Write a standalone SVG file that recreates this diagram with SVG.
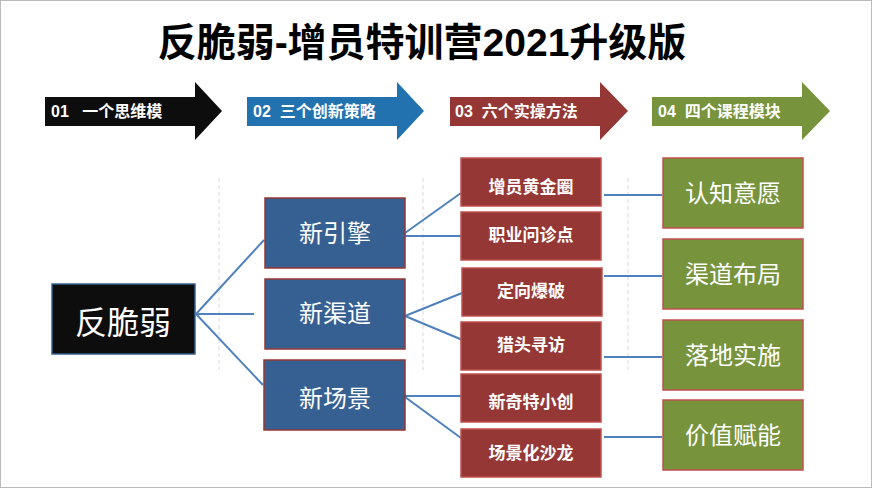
<svg xmlns="http://www.w3.org/2000/svg" width="872" height="488" viewBox="0 0 872 488">
<style>
text{font-family:"Liberation Sans","Noto Sans CJK SC",sans-serif}
.t{font-size:39px;font-weight:bold;fill:#000}
.a{font-size:16px;font-weight:bold;fill:#fff;white-space:pre}
.b{fill:#366092;stroke:#953735;stroke-width:1.5}
.r{fill:#953735;stroke:#c0504d;stroke-width:1.5}
.g{fill:#77933c;stroke:#c0504d;stroke-width:1.5}
.bt{font-size:24px;fill:#fff;text-anchor:middle}
.rt{font-size:17px;font-weight:bold;fill:#fff;text-anchor:middle}
.c line{stroke:#4f81bd;stroke-width:2}
.d line{stroke:#d9d9d9;stroke-width:1;stroke-dasharray:4 3}
</style>
<rect width="872" height="488" fill="#fff"/>
<rect x="0.5" y="0.5" width="871" height="487" fill="none" stroke="#bbb"/>
<text class="t" x="422" y="56" text-anchor="middle">反脆弱-增员特训营2021升级版</text>
<g id="arrows">
<polygon points="45,97 195,97 195,82 222,111 195,140 195,126 45,126" fill="#0d0d0d"/>
<polygon points="247,97 397,97 397,82 424,111 397,140 397,126 247,126" fill="#2272b0"/>
<polygon points="450,97 600,97 600,82 628,111 600,140 600,126 450,126" fill="#953735"/>
<polygon points="652,97 802,97 802,82 830,111 802,140 802,126 652,126" fill="#77933c"/>
<text class="a" x="51" y="117" xml:space="preserve">01   一个思维模</text>
<text class="a" x="253" y="117" xml:space="preserve">02  三个创新策略</text>
<text class="a" x="455" y="117" xml:space="preserve">03  六个实操方法</text>
<text class="a" x="658" y="117" xml:space="preserve">04  四个课程模块</text>
</g>
<g class="d"><line x1="219" y1="178" x2="219" y2="370"/><line x1="423" y1="178" x2="423" y2="370"/><line x1="628" y1="178" x2="628" y2="370"/></g>
<g class="c" id="connectors">
<line x1="196" y1="314" x2="264" y2="240"/><line x1="196" y1="314" x2="254" y2="314"/><line x1="196" y1="314" x2="263" y2="385"/>
<line x1="405" y1="233" x2="461" y2="193"/><line x1="405" y1="236" x2="461" y2="236"/>
<line x1="405" y1="316" x2="462" y2="293"/><line x1="405" y1="316" x2="465" y2="341"/>
<line x1="405" y1="396" x2="461" y2="396"/><line x1="405" y1="397" x2="461" y2="438"/>
<line x1="604" y1="195" x2="662" y2="195"/><line x1="604" y1="276" x2="662" y2="276"/><line x1="604" y1="357" x2="662" y2="357"/><line x1="604" y1="437" x2="662" y2="437"/>
</g>
<g id="root"><rect x="52" y="284" width="143" height="70" fill="#0d0d0d" stroke="#366092" stroke-width="1.5"/><text x="123" y="334" font-size="32" fill="#fff" text-anchor="middle">反脆弱</text></g>
<g id="b1"><rect class="b" x="265" y="198" width="140" height="70"/><text class="bt" x="335" y="242">新引擎</text></g>
<g id="b2"><rect class="b" x="265" y="279" width="140" height="70"/><text class="bt" x="335" y="322">新渠道</text></g>
<g id="b3"><rect class="b" x="264" y="360" width="141" height="70"/><text class="bt" x="335" y="407">新场景</text></g>
<g id="r1"><rect class="r" x="461" y="158" width="140" height="48"/><text class="rt" x="531" y="193">增员黄金圈</text></g>
<g id="r2"><rect class="r" x="461" y="212" width="140" height="48"/><text class="rt" x="531" y="241">职业问诊点</text></g>
<g id="r3"><rect class="r" x="462" y="268" width="140" height="48"/><text class="rt" x="531" y="297">定向爆破</text></g>
<g id="r4"><rect class="r" x="461" y="322" width="140" height="48"/><text class="rt" x="531" y="351">猎头寻访</text></g>
<g id="r5"><rect class="r" x="461" y="374" width="140" height="48"/><text class="rt" x="531" y="408">新奇特小创</text></g>
<g id="r6"><rect class="r" x="461" y="429" width="140" height="48"/><text class="rt" x="531" y="459">场景化沙龙</text></g>
<g id="g1"><rect class="g" x="663" y="158" width="140" height="70"/><text class="bt" x="733" y="202">认知意愿</text></g>
<g id="g2"><rect class="g" x="663" y="239" width="140" height="70"/><text class="bt" x="733" y="283">渠道布局</text></g>
<g id="g3"><rect class="g" x="663" y="320" width="140" height="70"/><text class="bt" x="733" y="364">落地实施</text></g>
<g id="g4"><rect class="g" x="663" y="400" width="140" height="70"/><text class="bt" x="733" y="444">价值赋能</text></g>
</svg>
